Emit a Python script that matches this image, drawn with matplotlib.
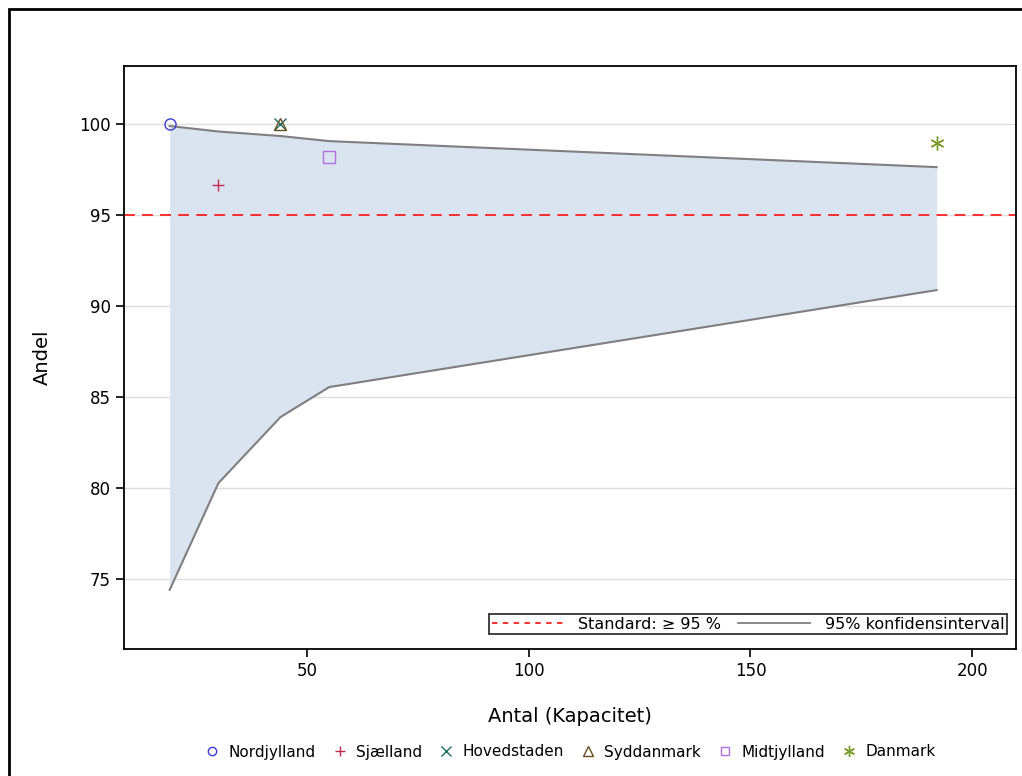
import numpy as np
import matplotlib.pyplot as plt
from matplotlib.lines import Line2D
from matplotlib.patches import Rectangle

# Regions: capacity (x) and share in percent (y)
regions = ["Nordjylland", "Sjælland", "Hovedstaden", "Syddanmark", "Midtjylland", "Danmark"]
antal = [19, 30, 44, 44, 55, 192]
andel = [100.0, 96.67, 100.0, 100.0, 98.18, 98.96]

# 95% confidence band
ci_x = [19, 30, 44, 55, 192]
ci_upper = [99.9, 99.6, 99.35, 99.07, 97.64]
ci_lower = [74.4, 80.27, 83.9, 85.55, 90.88]

standard = 95
yticks = [75, 80, 85, 90, 95, 100]
xticks = [50, 100, 150, 200]

asterisk = (6, 2, 0)
markers = ["o", "+", "x", "^", "s", asterisk]
colors = ["#3b3bd6", "#c4284f", "#1f6e66", "#6b4e1f", "#b070e0", "#7a9a2a"]
sizes = [8, 9, 9, 9, 8, 10]
hollow = [True, False, False, True, True, False]

fig = plt.figure(figsize=(10.22, 7.76), dpi=100)
ax = fig.add_axes([124 / 1022, 1 - 649 / 776, (1016 - 124) / 1022, (649 - 66) / 776])

ax.fill_between(ci_x, ci_lower, ci_upper, color="#dae3f0", lw=0, zorder=1)
ax.plot(ci_x, ci_upper, color="#7f7f7f", lw=1.5, zorder=2)
ax.plot(ci_x, ci_lower, color="#7f7f7f", lw=1.5, zorder=2)
ax.axhline(standard, color="#ff2020", ls=(0, (6, 4)), lw=1.3, zorder=2)

for x, y, m, c, s, h in zip(antal, andel, markers, colors, sizes, hollow):
    ax.plot(x, y, marker=m, ls="none", ms=s, mfc="none" if h else c,
            mec=c, mew=1.0, zorder=3)

ax.set_xlim(8.7, 209.9)
ax.set_ylim(71.15, 103.2)
ax.set_xticks(xticks)
ax.set_yticks(yticks)
ax.yaxis.grid(True, color="#dddddd", lw=1)
ax.set_axisbelow(True)
ax.tick_params(labelsize=12, length=6, width=1.2)
for sp in ax.spines.values():
    sp.set_linewidth(1.3)
ax.set_xlabel("Antal (Kapacitet)", fontsize=14, labelpad=19)
ax.set_ylabel("Andel", fontsize=14, labelpad=20)

inner = [Line2D([], [], color="#ff2020", ls=(0, (3, 3)), lw=1.3),
         Line2D([], [], color="#7f7f7f", lw=1.3)]
leg = ax.legend(inner, ["Standard: ≥ 95 %", "95% konfidensinterval"], ncol=2,
                loc="lower right", bbox_to_anchor=(0.9985, 0.012), fontsize=11.5,
                frameon=True, fancybox=False, edgecolor="black", borderpad=0.15,
                handlelength=4.5, columnspacing=1.1, handletextpad=0.9)
leg.get_frame().set_linewidth(1.3)

handles = [Line2D([], [], marker=m, ls="none", ms=s - 2, mfc="none" if h else c,
                  mec=c, mew=1.0) for m, c, s, h in zip(markers, colors, sizes, hollow)]
fig.legend(handles, regions, ncol=6, loc="center", bbox_to_anchor=(0.557, 1 - 752 / 776),
           frameon=False, fontsize=11, handletextpad=0.45, columnspacing=1.0,
           handlelength=1.2)

fig.add_artist(Rectangle((9 / 1022, -0.05), 1.1, 1.05 - 9 / 776, transform=fig.transFigure,
                         fill=False, ec="black", lw=2))

fig.savefig("out.png", dpi=100)
